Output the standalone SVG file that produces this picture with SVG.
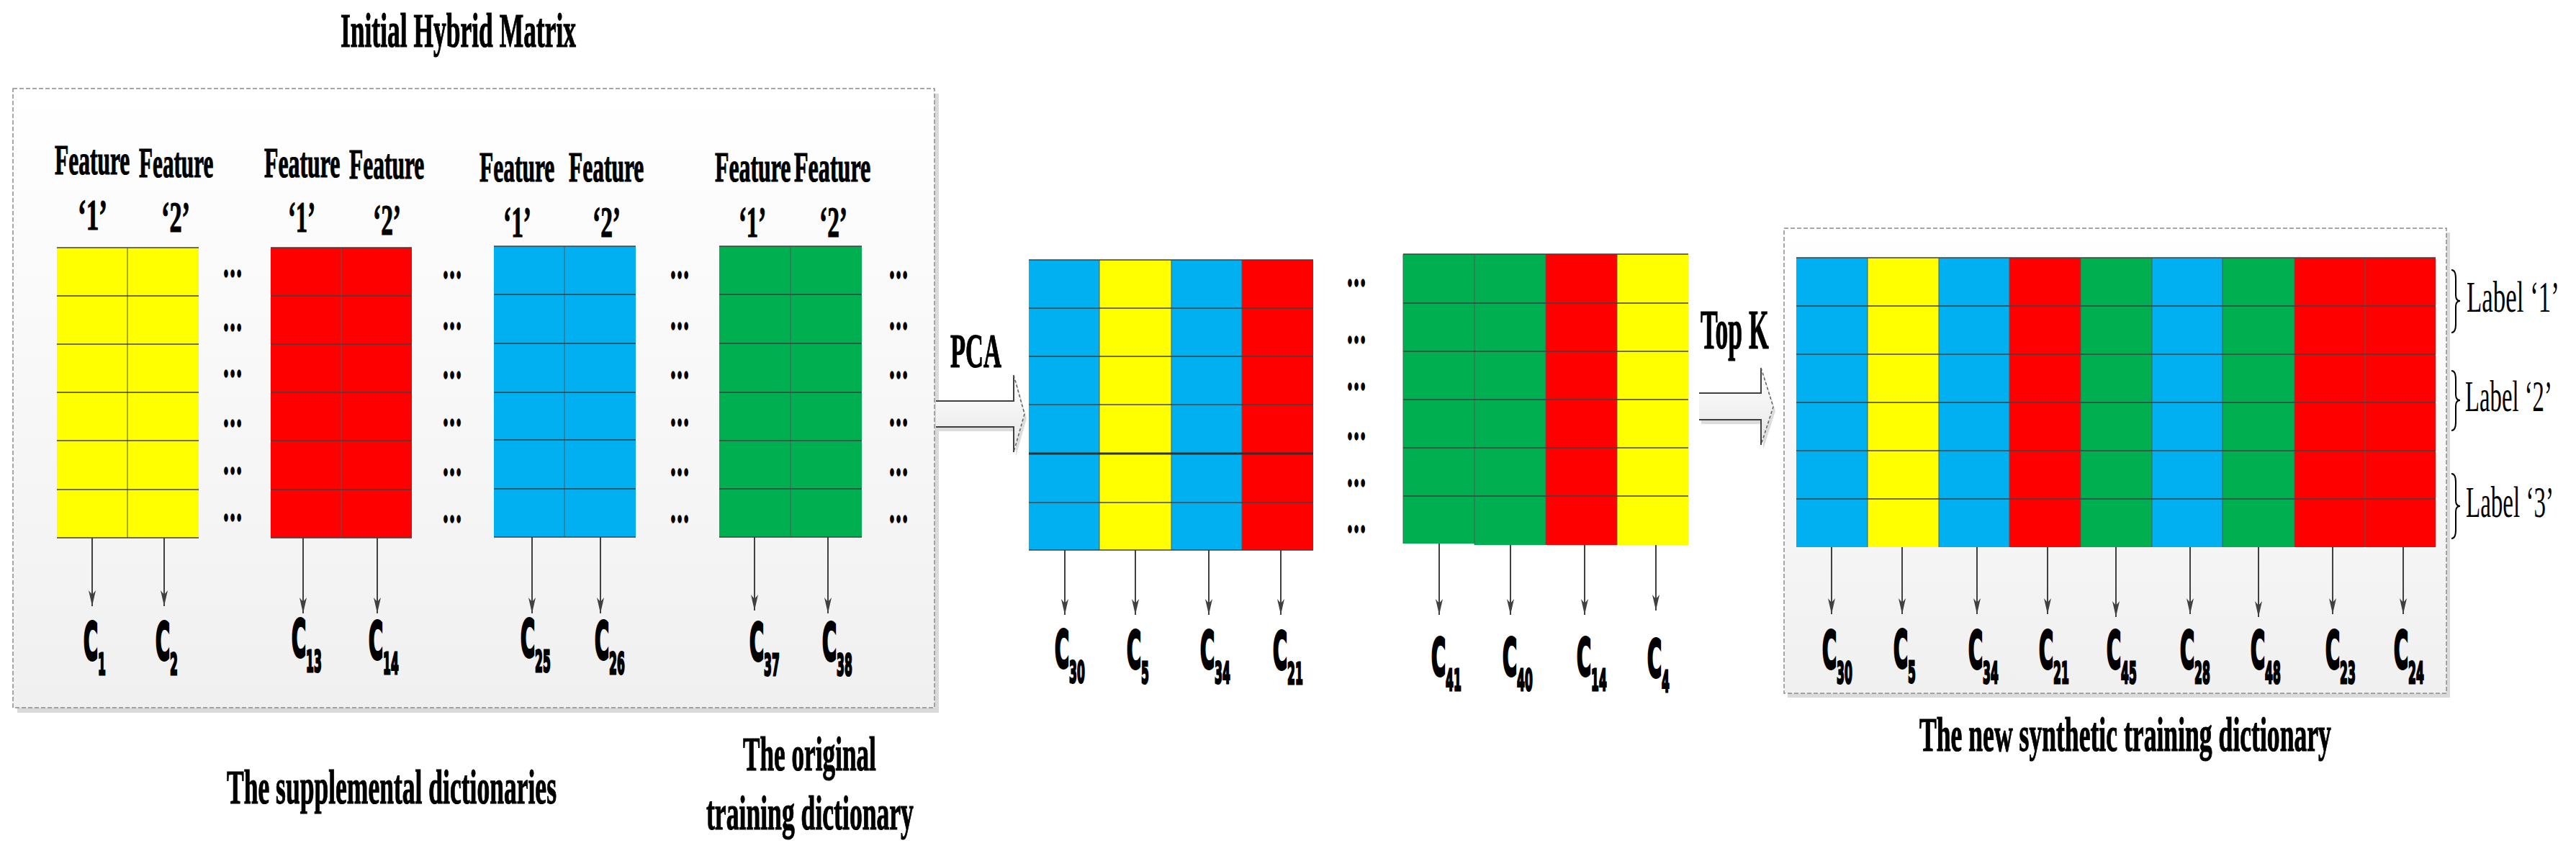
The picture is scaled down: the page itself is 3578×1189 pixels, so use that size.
<svg xmlns="http://www.w3.org/2000/svg" width="3578" height="1189" viewBox="0 0 3578 1189">
<defs>
<linearGradient id="boxg" x1="0" y1="0" x2="0" y2="1"><stop offset="0" stop-color="#ffffff"/><stop offset="1" stop-color="#f0f0f0"/></linearGradient>
<linearGradient id="arrg" x1="0" y1="0" x2="0" y2="1"><stop offset="0" stop-color="#ffffff"/><stop offset="1" stop-color="#e6e6e6"/></linearGradient>
<marker id="ah" viewBox="-24 -6 26 12" refX="0" refY="0" markerWidth="26" markerHeight="12" markerUnits="userSpaceOnUse" orient="auto"><path d="M0,0 L-22,-5 L-16,0 L-22,5 Z" fill="#404040"/></marker>
</defs>
<style>
.t{font-family:"Liberation Serif","Times New Roman",serif;font-weight:bold;fill:#000;stroke:#000;stroke-width:1.2}
.tr{font-family:"Liberation Serif","Times New Roman",serif;font-weight:normal;fill:#000}
.c{font-family:"DejaVu Sans",Verdana,sans-serif;font-weight:bold;font-size:72px;fill:#000;stroke:#000;stroke-width:3;vector-effect:non-scaling-stroke}
.c tspan{font-size:41px}
.dots{font-family:"Liberation Serif","Times New Roman",serif;font-weight:bold;font-size:54px;text-anchor:middle;fill:#000;stroke:#000;stroke-width:2.5}
.box{fill:url(#boxg);stroke:#8c8c8c;stroke-width:1.5;stroke-dasharray:6 3}
.shadow{fill:#dadada}
.Y{fill:#ffff00}.R{fill:#ff0000}.B{fill:#00b0f0}.G{fill:#00b050}
.grid{stroke:#404040;stroke-width:1.5;fill:none}
.vsep{stroke:#595959;stroke-width:1;fill:none}
.arr{stroke:#404040;stroke-width:2;fill:none;marker-end:url(#ah)}
.brace{stroke:#000;stroke-width:2;fill:none}
.bafill{fill:url(#arrg)}
.baline{stroke:#404040;stroke-width:2;fill:none}
.badash{stroke:#606060;stroke-width:1.5;fill:none;stroke-dasharray:4 3}
</style>
<rect width="3578" height="1189" fill="#ffffff"/>

<g id="title"><text class="t" font-size="68" transform="translate(473,65) scale(0.5215,1)">Initial Hybrid Matrix</text></g>

<g id="box-initial">
<rect class="shadow" x="24" y="130" width="1280" height="860"/>
<rect class="box" x="18" y="123" width="1280" height="860"/>
</g>

<g id="box-new">
<rect class="shadow" x="2483" y="323" width="920" height="646"/>
<rect class="box" x="2478" y="317" width="920" height="646"/>
</g>

<g id="features">
<text class="t" font-size="60" transform="translate(76,242) scale(0.525,1)">Feature</text>
<text class="t" font-size="60" transform="translate(193,246) scale(0.52,1)">Feature</text>
<text class="t" font-size="62" transform="translate(108,319) scale(0.567,1)">‘1’</text>
<text class="t" font-size="62" transform="translate(224,322) scale(0.553,1)">‘2’</text>
<text class="t" font-size="60" transform="translate(367,246) scale(0.53,1)">Feature</text>
<text class="t" font-size="60" transform="translate(485,248) scale(0.525,1)">Feature</text>
<text class="t" font-size="62" transform="translate(400,322) scale(0.526,1)">‘1’</text>
<text class="t" font-size="62" transform="translate(518,326) scale(0.539,1)">‘2’</text>
<text class="t" font-size="60" transform="translate(666,252) scale(0.525,1)">Feature</text>
<text class="t" font-size="60" transform="translate(790,252) scale(0.525,1)">Feature</text>
<text class="t" font-size="62" transform="translate(699,329) scale(0.539,1)">‘1’</text>
<text class="t" font-size="62" transform="translate(823,329) scale(0.539,1)">‘2’</text>
<text class="t" font-size="60" transform="translate(993,252) scale(0.53,1)">Feature</text>
<text class="t" font-size="60" transform="translate(1103,252) scale(0.535,1)">Feature</text>
<text class="t" font-size="62" transform="translate(1026,329) scale(0.526,1)">‘1’</text>
<text class="t" font-size="62" transform="translate(1138,329) scale(0.539,1)">‘2’</text>
</g>

<g id="dict-yellow">
<rect class="Y" x="79" y="344" width="197" height="403"/>
<path class="vsep" d="M177,344V747"/>
<path class="grid" d="M79,344H276M79,411H276M79,478H276M79,545H276M79,612H276M79,680H276M79,747H276"/>
</g>
<g id="dict-red">
<rect class="R" x="376" y="344" width="196" height="403"/>
<path class="vsep" d="M474,344V747"/>
<path class="grid" d="M376,344H572M376,411H572M376,478H572M376,545H572M376,612H572M376,680H572M376,747H572"/>
</g>
<g id="dict-blue">
<rect class="B" x="686" y="342" width="197" height="404"/>
<path class="vsep" d="M784,342V746"/>
<path class="grid" d="M686,342H883M686,409H883M686,477H883M686,545H883M686,611H883M686,679H883M686,746H883"/>
</g>
<g id="dict-green">
<rect class="G" x="999" y="342" width="198" height="404"/>
<path class="vsep" d="M1098,342V746"/>
<path class="grid" d="M999,342H1197M999,409H1197M999,477H1197M999,545H1197M999,612H1197M999,679H1197M999,746H1197"/>
</g>

<g id="dots-initial">
<g transform="translate(323,0) scale(0.5,1)">
<text class="dots" x="0" y="384">…</text><text class="dots" x="0" y="459">…</text><text class="dots" x="0" y="523">…</text><text class="dots" x="0" y="592">…</text><text class="dots" x="0" y="658">…</text><text class="dots" x="0" y="723">…</text>
</g>
<g transform="translate(628,0) scale(0.5,1)">
<text class="dots" x="0" y="386">…</text><text class="dots" x="0" y="457">…</text><text class="dots" x="0" y="525">…</text><text class="dots" x="0" y="591">…</text><text class="dots" x="0" y="660">…</text><text class="dots" x="0" y="725">…</text>
</g>
<g transform="translate(944,0) scale(0.5,1)">
<text class="dots" x="0" y="386">…</text><text class="dots" x="0" y="457">…</text><text class="dots" x="0" y="525">…</text><text class="dots" x="0" y="591">…</text><text class="dots" x="0" y="660">…</text><text class="dots" x="0" y="725">…</text>
</g>
<g transform="translate(1248,0) scale(0.5,1)">
<text class="dots" x="0" y="386">…</text><text class="dots" x="0" y="457">…</text><text class="dots" x="0" y="525">…</text><text class="dots" x="0" y="591">…</text><text class="dots" x="0" y="660">…</text><text class="dots" x="0" y="725">…</text>
</g>
</g>

<g id="labels-initial">
<text class="c" transform="translate(116,916) scale(0.38,1)">C<tspan dy="21">1</tspan></text>
<text class="c" transform="translate(216,916) scale(0.38,1)">C<tspan dy="21">2</tspan></text>
<text class="c" transform="translate(405,912) scale(0.38,1)">C<tspan dy="21">13</tspan></text>
<text class="c" transform="translate(512,915) scale(0.38,1)">C<tspan dy="21">14</tspan></text>
<text class="c" transform="translate(723,912) scale(0.38,1)">C<tspan dy="21">25</tspan></text>
<text class="c" transform="translate(826,915) scale(0.38,1)">C<tspan dy="21">26</tspan></text>
<text class="c" transform="translate(1041,917) scale(0.38,1)">C<tspan dy="21">37</tspan></text>
<text class="c" transform="translate(1142,917) scale(0.38,1)">C<tspan dy="21">38</tspan></text>
</g>

<g id="captions">
<text class="t" font-size="68" transform="translate(315,1116) scale(0.5225,1)">The supplemental dictionaries</text>
<text class="t" font-size="68" transform="translate(1032,1070) scale(0.518,1)">The original</text>
<text class="t" font-size="68" transform="translate(981,1152) scale(0.524,1)">training dictionary</text>
<text class="t" font-size="68" transform="translate(2666,1043) scale(0.524,1)">The new synthetic training dictionary</text>
<text class="t" font-size="68" transform="translate(1320,510) scale(0.508,1)">PCA</text>
<text class="t" font-size="78" transform="translate(2362,484) scale(0.457,1)">Top K</text>
</g>

<g id="pca-matrix-1">
<rect class="B" x="1429" y="361" width="98" height="403"/>
<rect class="Y" x="1527" y="361" width="100" height="403"/>
<rect class="B" x="1627" y="361" width="98" height="403"/>
<rect class="R" x="1725" y="361" width="99" height="403"/>
<path class="vsep" d="M1527,361V764M1627,361V764M1725,361V764"/>
<path class="grid" d="M1429,361H1824M1429,428H1824M1429,495H1824M1429,562H1824M1429,698H1824M1429,764H1824"/>
<path d="M1429,630H1824" stroke="#303030" stroke-width="3"/>
</g>
<g id="dots-pca" transform="translate(1884,0) scale(0.5,1)">
<text class="dots" x="0" y="397">…</text><text class="dots" x="0" y="476">…</text><text class="dots" x="0" y="541">…</text><text class="dots" x="0" y="610">…</text><text class="dots" x="0" y="675">…</text><text class="dots" x="0" y="739">…</text>
</g>
<g id="pca-matrix-2">
<rect class="G" x="1949" y="353" width="99" height="402"/>
<rect class="G" x="2048" y="353" width="99" height="404"/>
<rect class="R" x="2147" y="353" width="99" height="404"/>
<rect class="Y" x="2246" y="353" width="99" height="404"/>
<path class="vsep" d="M1949,353V755M2048,353V757M2147,353V757M2246,353V757"/>
<path class="grid" d="M1949,353H2345M1949,421H2345M1949,488H2345M1949,555H2345M1949,622H2345M1949,689H2345"/>
</g>

<g id="labels-pca">
<text class="c" transform="translate(1465,927) scale(0.38,1)">C<tspan dy="21">30</tspan></text>
<text class="c" transform="translate(1565,928) scale(0.38,1)">C<tspan dy="21">5</tspan></text>
<text class="c" transform="translate(1667,928) scale(0.38,1)">C<tspan dy="21">34</tspan></text>
<text class="c" transform="translate(1768,929) scale(0.38,1)">C<tspan dy="21">21</tspan></text>
<text class="c" transform="translate(1988,938) scale(0.38,1)">C<tspan dy="21">41</tspan></text>
<text class="c" transform="translate(2087,938) scale(0.38,1)">C<tspan dy="21">40</tspan></text>
<text class="c" transform="translate(2190,938) scale(0.38,1)">C<tspan dy="21">14</tspan></text>
<text class="c" transform="translate(2288,940) scale(0.38,1)">C<tspan dy="21">4</tspan></text>
</g>

<g id="new-matrix">
<rect class="B" x="2495" y="358" width="99" height="402"/>
<rect class="Y" x="2594" y="358" width="99" height="402"/>
<rect class="B" x="2693" y="358" width="98" height="402"/>
<rect class="R" x="2791" y="358" width="99" height="402"/>
<rect class="G" x="2890" y="358" width="99" height="402"/>
<rect class="B" x="2989" y="358" width="98" height="402"/>
<rect class="G" x="3087" y="358" width="100" height="402"/>
<rect class="R" x="3187" y="358" width="196" height="402"/>
<path class="vsep" d="M2594,358V760M2693,358V760M2791,358V760M2890,358V760M2989,358V760M3087,358V760M3187,358V760M3285,358V760"/>
<path class="grid" d="M2495,358H3383M2495,425H3383M2495,492H3383M2495,559H3383M2495,626H3383M2495,693H3383"/>
</g>

<g id="labels-new">
<text class="c" transform="translate(2531,928) scale(0.38,1)">C<tspan dy="21">30</tspan></text>
<text class="c" transform="translate(2630,927) scale(0.38,1)">C<tspan dy="21">5</tspan></text>
<text class="c" transform="translate(2734,928) scale(0.38,1)">C<tspan dy="21">34</tspan></text>
<text class="c" transform="translate(2832,928) scale(0.38,1)">C<tspan dy="21">21</tspan></text>
<text class="c" transform="translate(2926,928) scale(0.38,1)">C<tspan dy="21">45</tspan></text>
<text class="c" transform="translate(3028,928) scale(0.38,1)">C<tspan dy="21">28</tspan></text>
<text class="c" transform="translate(3126,928) scale(0.38,1)">C<tspan dy="21">48</tspan></text>
<text class="c" transform="translate(3230,928) scale(0.38,1)">C<tspan dy="21">23</tspan></text>
<text class="c" transform="translate(3325,928) scale(0.38,1)">C<tspan dy="21">24</tspan></text>
</g>

<g id="label-groups">
<path class="brace" d="M3405,375 Q3411,375 3411,387 L3411,410 Q3411,418 3417,418 Q3411,418 3411,426 L3411,450 Q3411,462 3405,462"/>
<text class="tr" font-size="62" transform="translate(3426,433) scale(0.563,1)">Label ‘1’</text>
<path class="brace" d="M3405,515 Q3411,515 3411,527 L3411,548 Q3411,556 3417,556 Q3411,556 3411,564 L3411,586 Q3411,598 3405,598"/>
<text class="tr" font-size="62" transform="translate(3424,571) scale(0.528,1)">Label ‘2’</text>
<path class="brace" d="M3405,658 Q3411,658 3411,670 L3411,695 Q3411,703 3417,703 Q3411,703 3411,711 L3411,736 Q3411,748 3405,748"/>
<text class="tr" font-size="62" transform="translate(3425,718) scale(0.533,1)">Label ‘3’</text>
</g>

<g id="connectors">
<path d="M1303,563 H1411 V527 L1426,581 L1411,634 V599 H1303 Z" fill="#dcdcdc"/>
<path class="bafill" d="M1300,557 H1408 V521 L1423,575 L1408,628 V593 H1300 Z"/>
<path class="baline" d="M1300,557 H1408 V521M1408,628 V593 H1300"/>
<path class="badash" d="M1408,521 L1423,575 L1408,628"/>
<path d="M2363,552 H2449 V517 L2466,571 L2449,624 V589 H2363 Z" fill="#dcdcdc"/>
<path class="bafill" d="M2360,546 H2446 V511 L2463,565 L2446,618 V583 H2360 Z"/>
<path class="baline" d="M2360,546 H2446 V511M2446,618 V583 H2360"/>
<path class="badash" d="M2446,511 L2463,565 L2446,618"/>
<path class="arr" d="M128,747V842"/>
<path class="arr" d="M228,747V842"/>
<path class="arr" d="M421,747V852"/>
<path class="arr" d="M524,747V852"/>
<path class="arr" d="M739,746V852"/>
<path class="arr" d="M834,746V852"/>
<path class="arr" d="M1048,746V848"/>
<path class="arr" d="M1150,746V852"/>
<path class="arr" d="M1479,764V854"/>
<path class="arr" d="M1577,764V854"/>
<path class="arr" d="M1679,764V854"/>
<path class="arr" d="M1779,764V854"/>
<path class="arr" d="M1999,755V854"/>
<path class="arr" d="M2098,757V854"/>
<path class="arr" d="M2201,757V854"/>
<path class="arr" d="M2300,757V848"/>
<path class="arr" d="M2544,760V853"/>
<path class="arr" d="M2642,760V853"/>
<path class="arr" d="M2746,760V853"/>
<path class="arr" d="M2844,760V853"/>
<path class="arr" d="M2939,760V857"/>
<path class="arr" d="M3042,760V853"/>
<path class="arr" d="M3137,760V857"/>
<path class="arr" d="M3240,760V853"/>
<path class="arr" d="M3338,760V853"/>
</g>
</svg>
